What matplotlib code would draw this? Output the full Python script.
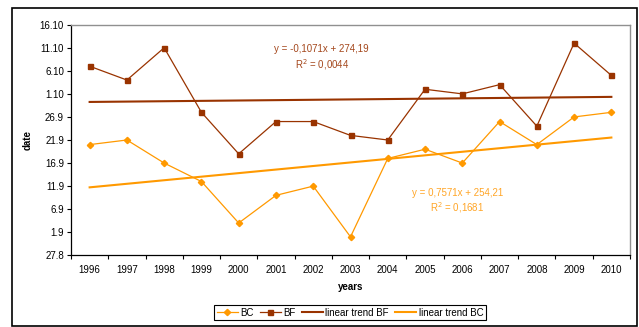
import numpy as np
import matplotlib
matplotlib.use("Agg")
import matplotlib.pyplot as plt
from matplotlib.patches import Rectangle

plt.rcParams['font.family'] = ['Liberation Sans', 'DejaVu Sans']

# Years and day-of-year values (27.8 = day 239)
years = ["1996", "1997", "1998", "1999", "2000", "2001", "2002", "2003",
         "2004", "2005", "2006", "2007", "2008", "2009", "2010"]
bc_days = [263, 264, 259, 255, 246, 252, 254, 243, 260, 262, 259, 268, 263, 269, 270]
bf_days = [280, 277, 284, 270, 261, 268, 268, 265, 264, 275, 274, 276, 267, 285, 278]

ytick_days = [239, 244, 249, 254, 259, 264, 269, 274, 279, 284, 289]
ytick_labels = ["27.8", "1.9", "6.9", "11.9", "16.9", "21.9", "26.9",
                "1.10", "6.10", "11.10", "16.10"]

bf_eq = ["y = -0,1071x + 274,19", "R$^2$ = 0,0044"]
bc_eq = ["y = 0,7571x + 254,21", "R$^2$ = 0,1681"]

c_bf = "#993300"
c_bc = "#FF9900"

W, H = 639, 327
fig = plt.figure(figsize=(W / 100, H / 100), dpi=100)
ax = fig.add_axes([71 / W, 1 - 255.3 / H, (630 - 71) / W, (255.3 - 24.7) / H])

x = np.arange(len(years))
ax.plot(x, bc_days, color=c_bc, lw=0.9, marker="D", ms=3.2, mec=c_bc, mfc=c_bc, label="BC", zorder=3)
ax.plot(x, bf_days, color=c_bf, lw=0.9, marker="s", ms=3.6, mec=c_bf, mfc=c_bf, label="BF", zorder=3)

# Least-squares trend lines
xi = x + 1
p_bf = np.polyfit(xi, bf_days, 1)
p_bc = np.polyfit(xi, bc_days, 1)
ax.plot(x, np.polyval(p_bf, xi), color=c_bf, lw=1.5, label="linear trend BF", zorder=2)
ax.plot(x, np.polyval(p_bc, xi), color=c_bc, lw=1.5, label="linear trend BC", zorder=2)

ax.set_xlim(-0.5, len(years) - 0.5)
ax.set_ylim(ytick_days[0], ytick_days[-1])
ax.set_yticks(ytick_days)
ax.set_yticklabels(ytick_labels)
ax.tick_params(axis="y", direction="out", length=3, width=0.8, labelsize=7, pad=2)

ax.set_xticks(np.arange(-0.5, len(years), 1.0))
ax.set_xticklabels([])
ax.set_xticks(x, minor=True)
ax.set_xticklabels(years, minor=True)
ax.tick_params(axis="x", which="major", direction="out", length=3, width=0.8)
ax.tick_params(axis="x", which="minor", length=0, labelsize=7, pad=7)

for s in ("left", "bottom"):
    ax.spines[s].set_color("black")
    ax.spines[s].set_linewidth(0.9)
for s in ("top", "right"):
    ax.spines[s].set_color("#909090")
    ax.spines[s].set_linewidth(1.0)

ax.set_xlabel("years", fontsize=7, fontweight="bold", labelpad=5)
ax.set_ylabel("date", fontsize=7, fontweight="bold", labelpad=5)

# Trend equations
eq_bf_col = "#a4471c"
eq_bc_col = "#ffa526"
fig.text(321.7 / W, 1 - 49.3 / H, bf_eq[0], color=eq_bf_col, fontsize=7, ha="center", va="center")
fig.text(321.7 / W, 1 - 64.3 / H, bf_eq[1], color=eq_bf_col, fontsize=7, ha="center", va="center")
fig.text(457.5 / W, 1 - 193.3 / H, bc_eq[0], color=eq_bc_col, fontsize=7, ha="center", va="center")
fig.text(457.5 / W, 1 - 207.7 / H, bc_eq[1], color=eq_bc_col, fontsize=7, ha="center", va="center")

handles, labels = ax.get_legend_handles_labels()
leg = fig.legend(handles, labels, loc="center", bbox_to_anchor=(350 / W, 1 - 312.5 / H),
                 ncol=4, fontsize=7, frameon=True, fancybox=False, edgecolor="black",
                 framealpha=1, handlelength=2.2, handletextpad=0.25, columnspacing=0.6,
                 borderpad=0.25, borderaxespad=0)
leg.get_frame().set_linewidth(0.8)

# Outer frame around the chart
fig.patches.append(Rectangle((12 / W, 1 - 326 / H), (637 - 12) / W, (326 - 8) / H,
                             transform=fig.transFigure, fill=False, edgecolor="black",
                             linewidth=1.2))

fig.savefig("out.png", dpi=100)
